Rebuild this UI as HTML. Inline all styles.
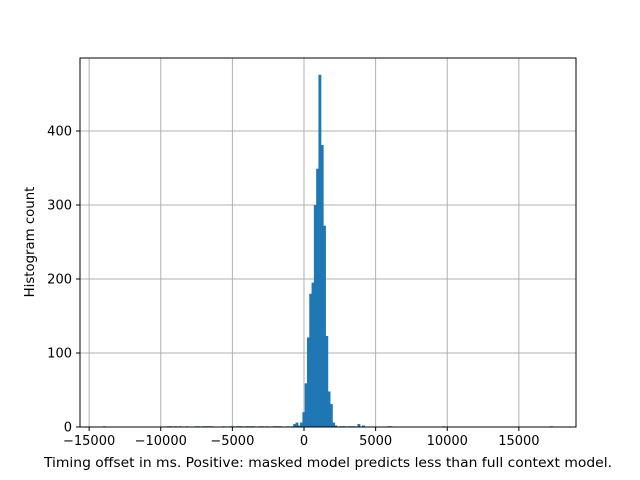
<!DOCTYPE html>
<html><head><meta charset="utf-8"><style>
body{margin:0;background:#fff;}
svg{display:block;font-family:"DejaVu Sans","Liberation Sans",sans-serif;}
</style></head><body>
<svg id="chart" width="640" height="480" viewBox="0 0 640 480">
<rect width="640" height="480" fill="#fff"/>
<g id="grid"></g>
<g id="bars"></g>
<rect x="80" y="58" width="496" height="369" fill="none" stroke="#000" stroke-width="1"/>
<g id="ticks"></g>
<text x="328" y="467" font-size="13.3" text-anchor="middle" textLength="568" lengthAdjust="spacingAndGlyphs">Timing offset in ms. Positive: masked model predicts less than full context model.</text>
<text transform="translate(34,242) rotate(-90)" font-size="13.3" text-anchor="middle">Histogram count</text>
</svg>
<script>
const binStart = -14011;
const binWidth = 160;
const counts = [
1,0,0,0,0,0,0,0,0,0,
0,0,0,0,0,0,0,0,0,0,
0,0,0,0,0,0,0,0,1,1,
0,1,0,1,0,0,1,0,0,0,
1,1,0,1,1,1,1,1,0,0,
0,0,1,0,0,1,1,0,1,1,
1,0,1,1,1,1,0,0,1,1,
0,1,0,0,1,1,1,1,0,0,
1,0,1,4,6,2,6,20,59,121,
180,195,300,349,476,381,272,123,48,31,
6,2,0,1,1,1,0,1,1,1,
0,4,0,2,0,0,0,0,0,0,
0,0,0,0,1,1,0,0,0,0,
0,0,0,0,0,0,0,0,0,0,
0,0,0,0,0,0,0,0,1,0,
0,0,0,0,0,0,0,0,0,0,
0,0,0,0,0,0,0,0,0,0,
0,0,0,0,0,0,0,0,0,0,
0,0,0,0,0,0,0,0,0,0,
0,0,0,0,0,1,0
];
const xTicks = [-15000,-10000,-5000,0,5000,10000,15000];
const yTicks = [0,100,200,300,400];

const NS = "http://www.w3.org/2000/svg";
const xs = v => 304 + v * 0.014325;
const ys = c => 427 - c * 0.74;
function mk(tag, attrs, parent){const e=document.createElementNS(NS,tag);for(const k in attrs)e.setAttribute(k,attrs[k]);parent.appendChild(e);return e;}
const grid=document.getElementById('grid'), bars=document.getElementById('bars'), ticks=document.getElementById('ticks');
xTicks.forEach(t=>{
  const x=xs(t);
  const g=mk('line',{x1:x,x2:x,y1:58,y2:427,stroke:'#b0b0b0','stroke-width':1},grid);
  
  
  const tk=mk('line',{x1:x,x2:x,y1:427,y2:431,stroke:'#000','stroke-width':1},ticks);
  
  
  const lb=mk('text',{x:x,y:445,'font-size':13,'text-anchor':'middle'},ticks);
  lb.textContent=String(t).replace('-','\u2212');
  
  
});
yTicks.forEach(t=>{
  const y=ys(t);
  const g=mk('line',{x1:80,x2:576,y1:y,y2:y,stroke:'#b0b0b0','stroke-width':1},grid);
  
  
  const tk=mk('line',{x1:76,x2:80,y1:y,y2:y,stroke:'#000','stroke-width':1},ticks);
  
  
  const lb=mk('text',{x:72,y:y+4.5,'font-size':13,'text-anchor':'end'},ticks);
  lb.textContent=String(t);
  
  
});
counts.forEach((c,i)=>{
  if(!c) return;
  const x0=xs(binStart+i*binWidth), x1=xs(binStart+(i+1)*binWidth);
  const b=mk('rect',{x:x0-0.3,y:ys(c),width:x1-x0+0.6,height:ys(0)-ys(c),fill:'#1f77b4'},bars);
  
  
});
</script>
</body></html>
